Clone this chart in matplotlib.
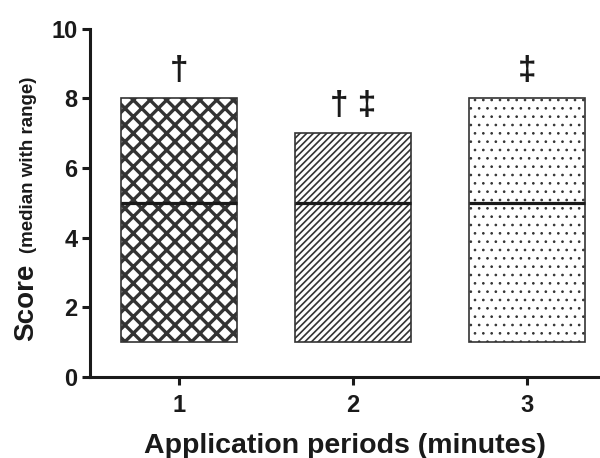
import matplotlib
matplotlib.use("Agg")
import matplotlib.pyplot as plt

# data
periods = [1, 2, 3]
score_min = [1, 1, 1]
score_max = [8, 7, 8]
score_median = [5, 5, 5]
marks = ["\u2020", "\u2020 \u2021", "\u2021"]
y_ticks = [0, 2, 4, 6, 8, 10]

hatches = ["xx", "/////", ".."]
hatch_widths = [2.4, 1.2, 0.7]
hatch_colors = ["#111111", "#1a1a1a", "#555555"]

plt.rcParams['font.family'] = ['Liberation Sans', 'DejaVu Sans']
ink = "#1a1a1a"

fig = plt.figure(figsize=(6, 4.58), dpi=100)
ax = fig.add_axes([0.15, 0.177, 0.85, 0.76])

for i, p in enumerate(periods):
    with plt.rc_context({'hatch.linewidth': hatch_widths[i],
                         'hatch.color': hatch_colors[i]}):
        bar = ax.bar(p, score_max[i] - score_min[i], bottom=score_min[i],
                     width=0.67, facecolor="white", edgecolor="#333333",
                     linewidth=1.2, hatch=hatches[i], zorder=2)
    for patch in bar:
        if hasattr(patch, "set_hatch_linewidth"):
            patch.set_hatch_linewidth(hatch_widths[i])
    # median line
    ax.plot([p - 0.335, p + 0.335], [score_median[i]] * 2,
            color=ink, linewidth=2.3, solid_capstyle="butt", zorder=3)
    # significance marks
    ax.annotate(marks[i], (p, score_max[i]), xytext=(0, 9),
                textcoords="offset points", ha="center", va="bottom",
                fontsize=24, fontweight="bold", color=ink)

ax.set_xlim(0.489, 3.42)
ax.set_ylim(0, 10)
ax.set_xticks(periods)
ax.set_yticks(y_ticks)

for side in ["top", "right"]:
    ax.spines[side].set_visible(False)
for side in ["left", "bottom"]:
    ax.spines[side].set_linewidth(2.2)
    ax.spines[side].set_color(ink)
    ax.spines[side].set_capstyle("projecting")

ax.tick_params(direction="out", length=6, width=2.2, color=ink,
               labelsize=17, labelcolor=ink, pad=3)
for lab in ax.get_xticklabels() + ax.get_yticklabels():
    lab.set_fontweight("bold")
ax.tick_params(axis="x", pad=6)

ax.set_xlabel("Application periods (minutes)", fontsize=20.5,
              fontweight="bold", color=ink, labelpad=12)

# two-size y label
fig.text(33 / 600, 1 - 341 / 458, "Score", rotation=90, rotation_mode="anchor",
         ha="left", va="baseline", fontsize=20, fontweight="bold", color=ink)
fig.text(33 / 600, 1 - 253 / 458, "(median with range)", rotation=90,
         rotation_mode="anchor", ha="left", va="baseline", fontsize=13.5,
         fontweight="bold", color=ink)

fig.savefig("out.png", dpi=100)
